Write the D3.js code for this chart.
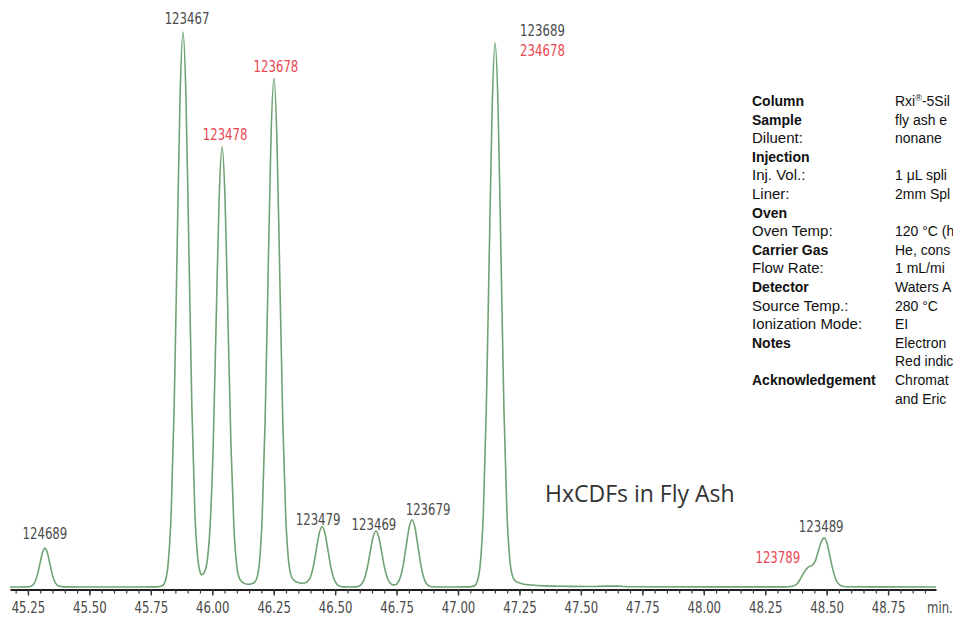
<!DOCTYPE html>
<html lang="en"><head>
<meta charset="utf-8">
<title>HxCDFs in Fly Ash</title>
<script src="https://cdn.jsdelivr.net/npm/d3@7"></script>
<style>
body { margin: 0; background: #fff; }
svg { display: block; }
</style>
</head>
<body>
<script>

var width = 953;
var height = 619;

// trace: retention time (min) / relative response (% of tallest peak)
var times = [
  45.177, 45.22, 45.245, 45.259, 45.269, 45.279, 45.289, 45.299, 45.309, 45.319,
  45.329, 45.339, 45.349, 45.359, 45.369, 45.38, 45.40, 45.55, 45.70, 45.775,
  45.797, 45.809, 45.821, 45.833, 45.845, 45.857, 45.869, 45.881, 45.893, 45.905,
  45.917, 45.929, 45.941, 45.950, 45.958, 45.967, 45.980, 45.992, 46.004, 46.016,
  46.028, 46.040, 46.052, 46.064, 46.076, 46.088, 46.100, 46.112, 46.128, 46.145,
  46.160, 46.170, 46.179, 46.191, 46.203, 46.215, 46.227, 46.239, 46.251, 46.263,
  46.275, 46.287, 46.299, 46.311, 46.323, 46.335, 46.350, 46.363, 46.375, 46.387,
  46.399, 46.411, 46.423, 46.435, 46.447, 46.459, 46.471, 46.483, 46.495, 46.507,
  46.519, 46.535, 46.560, 46.582, 46.594, 46.606, 46.618, 46.630, 46.642, 46.654,
  46.666, 46.678, 46.690, 46.702, 46.714, 46.726, 46.736, 46.746, 46.753, 46.765,
  46.777, 46.789, 46.801, 46.813, 46.825, 46.837, 46.849, 46.861, 46.873, 46.885,
  46.900, 46.950, 47.030, 47.055, 47.067, 47.079, 47.091, 47.103, 47.115, 47.127,
  47.139, 47.151, 47.163, 47.175, 47.187, 47.199, 47.211, 47.223, 47.235, 47.26,
  47.30, 47.35, 47.45, 47.55, 47.60, 47.65, 47.70, 48.00, 48.30, 48.345,
  48.36, 48.38, 48.395, 48.412, 48.425, 48.441, 48.455, 48.465, 48.478, 48.490,
  48.502, 48.514, 48.526, 48.538, 48.550, 48.565, 48.59, 48.70, 48.945
];
var signal = [
  0, 0, 0.03, 0.08, 0.31, 0.95, 2.27, 4.25, 6.18, 7.0,
  6.18, 4.25, 2.27, 0.95, 0.35, 0.12, 0.03, 0, 0, 0.03,
  0.22, 1.1, 4.4, 13.5, 32.5, 60.7, 88.3, 100, 88.3, 60.7,
  32.5, 13.8, 5.2, 2.8, 2.2, 2.6, 4.9, 11.6, 25.7, 48.1,
  70.0, 79.3, 70.0, 48.1, 25.7, 10.9, 3.7, 1.4, 0.7, 0.5,
  0.6, 0.8, 1.3, 4.0, 12.4, 29.8, 55.6, 80.9, 91.7, 80.9,
  55.6, 29.8, 12.6, 4.5, 1.8, 1.1, 0.8, 0.68, 0.72, 0.95,
  1.7, 3.6, 6.6, 9.6, 10.9, 9.6, 6.6, 3.5, 1.5, 0.5,
  0.15, 0.03, 0, 0.03, 0.11, 0.44, 1.37, 3.28, 6.13, 8.91,
  10.1, 8.91, 6.13, 3.28, 1.45, 0.6, 0.38, 0.4, 0.65, 1.7,
  3.93, 7.34, 10.68, 12.1, 10.68, 7.34, 3.93, 1.64, 0.53, 0.15,
  0.04, 0, 0.02, 0.06, 0.22, 1.09, 4.30, 13.26, 31.82, 59.44,
  86.49, 98.0, 86.49, 59.44, 31.82, 13.5, 4.8, 1.8, 1.0, 0.6,
  0.35, 0.2, 0.12, 0.08, 0.15, 0.15, 0.05, 0.03, 0.02, 0.05,
  0.12, 0.6, 1.6, 2.9, 3.6, 3.9, 4.8, 6.3, 8.1, 8.85,
  7.8, 5.4, 3.0, 1.3, 0.5, 0.15, 0.05, 0.02, 0
];

// peak labels (congener substitution), apex time and response
var peakNames  = ["124689", "123467", "123478", "123678", "123479", "123469", "123679", "123689", "234678", "123789", "123489"];
var peakTimes  = [45.319, 45.881, 46.040, 46.251, 46.447, 46.666, 46.813, 47.151, 47.151, 48.425, 48.490];
var peakHeights = [7.0, 100, 79.3, 91.7, 10.9, 10.1, 12.1, 98.0, 98.0, 3.6, 8.85];
var peakRed    = [false, false, true, true, false, false, false, false, true, true, false];

var majorTicks = [45.25, 45.50, 45.75, 46.00, 46.25, 46.50, 46.75, 47.00, 47.25, 47.50, 47.75, 48.00, 48.25, 48.50, 48.75];

var infoLabels = ["Column", "Sample", "Diluent:", "Injection", "Inj. Vol.:", "Liner:", "Oven", "Oven Temp:",
  "Carrier Gas", "Flow Rate:", "Detector", "Source Temp.:", "Ionization Mode:", "Notes", "", "Acknowledgement", ""];
var infoValues = ["Rxi®-5Sil", "fly ash e", "nonane", "", "1 μL spli", "2mm Spl", "", "120 °C (h",
  "He, cons", "1 mL/mi", "Waters A", "280 °C", "EI", "Electron", "Red indic", "Chromat", "and Eric"];
var infoBold = [true, true, false, true, false, false, true, false, true, false, true, false, false, true, false, true, false];

var svg = d3.select("body").append("svg")
  .attr("width", width)
  .attr("height", height);

var x = d3.scaleLinear().domain([45.177, 48.945]).range([10, 936]);
var y = d3.scaleLinear().domain([0, 100]).range([587, 32]);

var narrow = "'Liberation Sans Narrow', 'Arial Narrow', 'DejaVu Sans Condensed', sans-serif";
var squeeze = 0.87;

// axis
var axisY = 589.5;
var minorTicks = d3.range(45.20, 48.901, 0.05);

svg.append("g")
  .attr("transform", "translate(0," + axisY + ")")
  .call(d3.axisBottom(x).tickValues(minorTicks).tickSize(4).tickSizeOuter(0).tickFormat(""))
  .call(function(g) {
    g.select(".domain").attr("stroke", "#1e1e1e").attr("stroke-width", 2.2);
    g.selectAll(".tick line").attr("stroke", "#333").attr("stroke-width", 1.2);
  });

svg.append("g")
  .attr("transform", "translate(0," + axisY + ")")
  .call(d3.axisBottom(x).tickValues(majorTicks).tickSize(6).tickPadding(7).tickFormat(d3.format(".2f")))
  .call(function(g) {
    g.select(".domain").remove();
    g.selectAll(".tick line").attr("stroke", "#333").attr("stroke-width", 1.4);
    g.selectAll(".tick text")
      .attr("fill", "#4a4a4a")
      .attr("transform", "scale(" + squeeze + ",1)")
      .style("font-family", narrow)
      .style("font-size", "15px");
  });

svg.append("text")
  .attr("transform", "translate(927,613) scale(" + squeeze + ",1)")
  .attr("fill", "#4a4a4a")
  .style("font-family", narrow)
  .style("font-size", "15px")
  .text("min.");

// trace
var line = d3.line()
  .x(function(d, i) { return x(times[i]); })
  .y(function(d) { return y(d); })
  .curve(d3.curveMonotoneX);

svg.append("path")
  .attr("d", line(signal))
  .attr("fill", "none")
  .attr("stroke", "#6fa374")
  .attr("stroke-width", 1.6)
  .attr("stroke-linejoin", "round");

// label nudges from the apex: [dx, dy, anchor]
var labelNudge = [
  [0, -9, "middle"], [4, -8, "middle"], [3, -7, "middle"], [2, -6, "middle"],
  [-4, -2, "middle"], [-2, -1, "middle"], [16, -5, "middle"],
  [25, -7, "start"], [25, 13, "start"], [-8, -4, "end"], [-3, -6, "middle"]
];

svg.selectAll(".peak-label")
  .data(peakNames)
  .enter()
  .append("text")
  .attr("class", "peak-label")
  .attr("transform", function(d, i) {
    return "translate(" + (x(peakTimes[i]) + labelNudge[i][0]) + "," + (y(peakHeights[i]) + labelNudge[i][1]) + ") scale(" + squeeze + ",1)";
  })
  .attr("text-anchor", function(d, i) { return labelNudge[i][2]; })
  .attr("fill", function(d, i) { return peakRed[i] ? "#e8474f" : "#4a4a4a"; })
  .style("font-family", narrow)
  .style("font-size", "15px")
  .text(function(d) { return d; });

svg.append("text")
  .attr("x", 545)
  .attr("y", 502)
  .attr("fill", "#333")
  .style("font-family", "'Open Sans', sans-serif")
  .style("font-size", "23px")
  .text("HxCDFs in Fly Ash");

// conditions table
var rowStep = 18.6;
var info = svg.append("g").attr("transform", "translate(752,106)");
infoLabels.forEach(function(lab, i) {
  info.append("text")
    .attr("x", 0)
    .attr("y", i * rowStep)
    .attr("fill", "#111")
    .style("font-family", "'Liberation Sans', Arial, sans-serif")
    .style("font-size", infoBold[i] ? "14px" : "15px")
    .style("font-weight", infoBold[i] ? "bold" : "normal")
    .text(lab);
  var v = info.append("text")
    .attr("x", 143)
    .attr("y", i * rowStep)
    .attr("fill", "#111")
    .style("font-family", "'Liberation Sans', Arial, sans-serif")
    .style("font-size", "14px");
  var parts = infoValues[i].split("®");
  v.append("tspan").text(parts[0]);
  if (parts.length > 1) {
    v.append("tspan").attr("dy", -5).style("font-size", "9px").text("®");
    v.append("tspan").attr("dy", 5).text(parts[1]);
  }
});

</script>
</body>
</html>
